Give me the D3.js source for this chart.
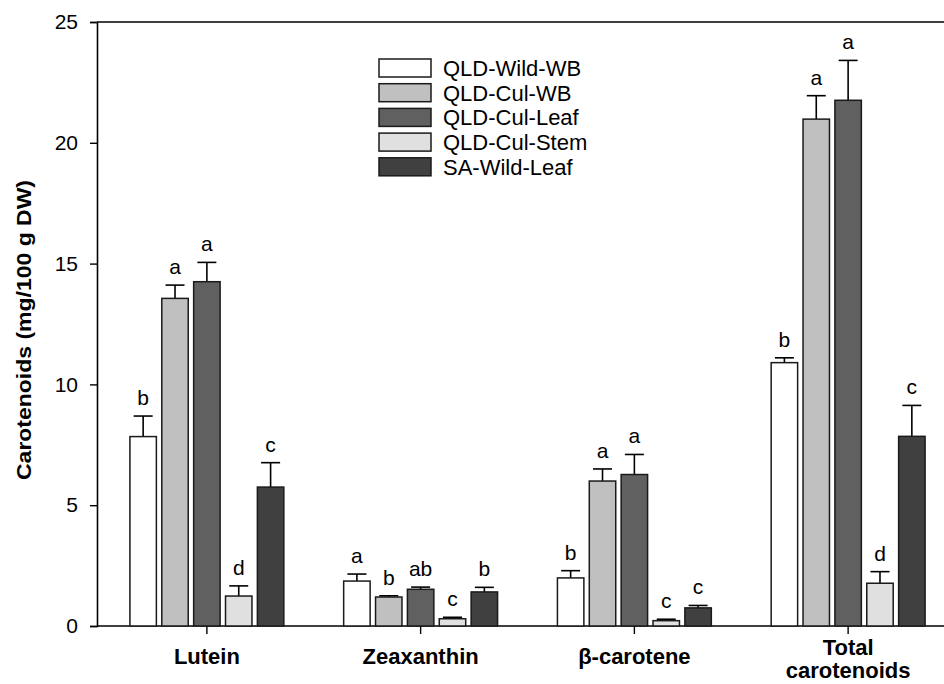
<!DOCTYPE html>
<html><head><meta charset="utf-8">
<script src="https://cdn.jsdelivr.net/npm/d3@7"></script>
<style>body{margin:0;background:#fff}svg{display:block}text{font-family:"Liberation Sans",Arial,sans-serif}</style>
</head><body><svg id="c" width="944" height="684"></svg>
<script>
const categories = ["Lutein","Zeaxanthin","β-carotene","Total carotenoids"];
const series = ["QLD-Wild-WB","QLD-Cul-WB","QLD-Cul-Leaf","QLD-Cul-Stem","SA-Wild-Leaf"];
const colors = ["#ffffff","#c0c0c0","#606060","#e0e0e0","#404040"];
// values[series][category]
const values = [
  [7.84, 1.86, 1.99, 10.9],
  [13.56, 1.2, 6.0, 20.98],
  [14.25, 1.52, 6.27, 21.76],
  [1.24, 0.30, 0.22, 1.77],
  [5.75, 1.41, 0.75, 7.85]
];
const errors = [
  [0.85, 0.29, 0.30, 0.2],
  [0.55, 0.05, 0.5, 0.97],
  [0.8, 0.09, 0.83, 1.65],
  [0.42, 0.06, 0.06, 0.48],
  [1.01, 0.19, 0.1, 1.28]
];
const letters = [
  ["b","a","b","b"],
  ["a","b","a","a"],
  ["a","ab","a","a"],
  ["d","c","c","d"],
  ["c","b","c","c"]
];
const yTicks = [0,5,10,15,20,25];

const svg = d3.select("#c");
const L = 97, R = 944, T = 22, B = 626;
const y = d3.scaleLinear().domain([0,25]).range([B,T]);
const x0 = d3.scaleBand().domain(categories).range([100, 955]).paddingInner(0.28).paddingOuter(0.14);
const x1 = d3.scaleBand().domain(series).range([0, x0.bandwidth()]).paddingInner(0.17);

// frame lines
svg.append("line").attr("x1",L).attr("x2",R).attr("y1",T).attr("y2",T).attr("stroke","#000").attr("stroke-width",1.6);
svg.append("line").attr("x1",L).attr("x2",R).attr("y1",B).attr("y2",B).attr("stroke","#000").attr("stroke-width",1.6);

// y axis
const ya = svg.append("g").attr("transform",`translate(${L},0)`)
  .call(d3.axisLeft(y).tickValues(yTicks).tickSize(7).tickPadding(12));
ya.select(".domain").attr("stroke-width",1.6);
ya.selectAll(".tick line").attr("stroke-width",1.4);
ya.selectAll("text").attr("font-size",21).attr("fill","#000").style("font-family","Liberation Sans, Arial, sans-serif");

svg.append("text").attr("transform",`translate(31,${(T+B)/2+6}) rotate(-90)`)
  .attr("text-anchor","middle").attr("font-weight","bold").attr("font-size",21)
  .attr("textLength",300).attr("lengthAdjust","spacingAndGlyphs").text("Carotenoids (mg/100 g DW)");

// x ticks
categories.forEach(c=>{
  const cx = x0(c)+x0.bandwidth()/2;
  svg.append("line").attr("x1",cx).attr("x2",cx).attr("y1",B).attr("y2",B+8).attr("stroke","#000").attr("stroke-width",1.4);
  const words = c==="Total carotenoids" ? ["Total","carotenoids"] : [c];
  const y0 = words.length>1 ? 655 : 664;
  words.forEach((w,i)=>{
    svg.append("text").attr("x",cx).attr("y",y0+i*23).attr("text-anchor","middle")
      .attr("font-weight","bold").attr("font-size",22).text(w);
  });
});

// bars
series.forEach((s,si)=>{
  categories.forEach((c,ci)=>{
    const bx = x0(c)+x1(s), bw = x1.bandwidth();
    const v = values[si][ci], e = errors[si][ci];
    const cx = bx+bw/2;
    svg.append("line").attr("x1",cx).attr("x2",cx).attr("y1",y(v)).attr("y2",y(v+e)).attr("stroke","#000").attr("stroke-width",1.6);
    svg.append("line").attr("x1",cx-9.5).attr("x2",cx+9.5).attr("y1",y(v+e)).attr("y2",y(v+e)).attr("stroke","#000").attr("stroke-width",1.6);
    svg.append("rect").attr("x",bx).attr("y",y(v)).attr("width",bw).attr("height",y(0)-y(v))
      .attr("fill",colors[si]).attr("stroke","#1a1a1a").attr("stroke-width",1.5);
    svg.append("text").attr("x",cx).attr("y",y(v+e)-11).attr("text-anchor","middle").attr("font-size",21).text(letters[si][ci]);
  });
});

// legend
series.forEach((s,i)=>{
  const ly = 59 + i*24.7;
  svg.append("rect").attr("x",379).attr("y",ly).attr("width",52).attr("height",18)
    .attr("fill",colors[i]).attr("stroke","#1a1a1a").attr("stroke-width",1.5);
  svg.append("text").attr("x",443).attr("y",ly+17).attr("font-size",22).text(s);
});
</script></body></html>
